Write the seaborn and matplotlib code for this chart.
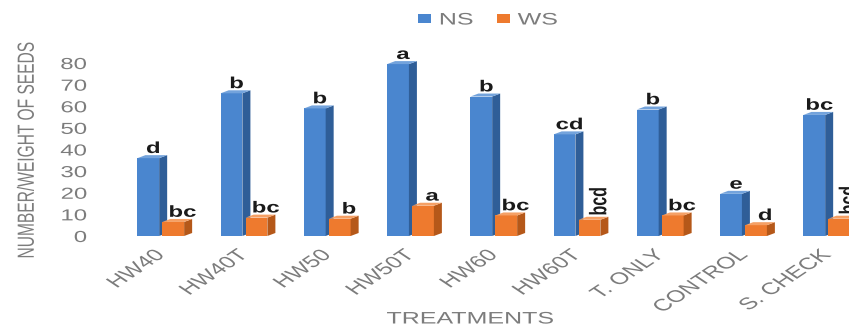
import matplotlib
matplotlib.use("Agg")
import matplotlib.pyplot as plt
import numpy as np
import pandas as pd
import seaborn as sns
from matplotlib.patheffects import AbstractPathEffect
from matplotlib.transforms import Affine2D

# ---- data -------------------------------------------------------------
treatments = ["HW40", "HW40T", "HW50", "HW50T", "HW60", "HW60T",
              "T. ONLY", "CONTROL", "S. CHECK"]
series = ["NS", "WS"]
ns_values = [36, 66, 59, 79.5, 64.5, 47, 58.5, 19.5, 56]
ws_values = [6.5, 8.5, 8, 14, 9.5, 7.5, 9.5, 5, 8]
ns_letters = ["d", "b", "b", "a", "b", "cd", "b", "e", "bc"]
ws_letters = ["bc", "bc", "b", "a", "bc", "bcd", "bc", "d", "bcd"]
y_ticks = [0, 10, 20, 30, 40, 50, 60, 70, 80]

# ---- style ------------------------------------------------------------
W, H = 849, 334
GRAY = "#7c7c7c"
FRONT = {"NS": "#4a86cf", "WS": "#ee7a2e"}
SIDE = {"NS": "#2f5e98", "WS": "#b55819"}
TOP = {"NS": "#73a3dc", "WS": "#f5a065"}
WIDEN = 1.5          # horizontal glyph widening used for all labels

sns.set_theme(style="white")
plt.rcParams["font.family"] = ["Liberation Sans", "DejaVu Sans"]


class WideGlyphs(AbstractPathEffect):
    """Widen the glyphs of a text horizontally, keeping its anchor fixed."""

    def __init__(self, text, sx):
        super().__init__()
        self._text = text
        self._sx = sx

    def draw_path(self, renderer, gc, tpath, affine, rgbFace=None):
        x0, y0 = self._text.get_transform().transform(
            self._text.get_unitless_position())
        widen = (Affine2D().translate(-x0, -y0)
                 .scale(self._sx, 1.0).translate(x0, y0))
        renderer.draw_path(gc, tpath, affine + widen, rgbFace)


def widen(texts):
    for t in texts:
        t.set_path_effects([WideGlyphs(t, WIDEN)])


df = pd.DataFrame({
    "treatment": treatments * 2,
    "series": ["NS"] * len(treatments) + ["WS"] * len(treatments),
    "value": ns_values + ws_values,
})

fig = plt.figure(figsize=(W / 100, H / 100), dpi=100)
ax = fig.add_axes([110 / W, 98 / H, 739 / W, 194.6 / H])

sns.barplot(data=df, x="treatment", y="value", hue="series",
            order=treatments, hue_order=series,
            palette=[FRONT[s] for s in series], saturation=1,
            width=0.6, gap=0.13, errorbar=None, linewidth=0, ax=ax)

x_min = -0.61
px_per_unit_x = 83.25
ax.set_xlim(x_min, x_min + 739 / px_per_unit_x)
ax.set_ylim(0, 90)
sns.despine(ax=ax, left=True, bottom=True)
ax.grid(False)

# depth of the extruded bar faces, in data units
dx = 8 / px_per_unit_x
dy = 3 / (194.6 / 90)

label_sets = {"NS": ns_letters, "WS": ws_letters}
annotations = []
for k, (name, container) in enumerate(zip(series, ax.containers)):
    base_z = 2 + 2 * k
    for bar, letter in zip(container, label_sets[name]):
        bar.set_zorder(base_z)
        x, w, h = bar.get_x(), bar.get_width(), bar.get_height()
        ax.fill([x + w, x + w + dx, x + w + dx, x + w],
                [0, dy, h + dy, h], color=SIDE[name], lw=0,
                zorder=base_z + 0.5)
        ax.fill([x, x + dx, x + w + dx, x + w],
                [h, h + dy, h + dy, h], color=TOP[name], lw=0,
                zorder=base_z + 0.5)
        cx = x + w / 2
        if len(letter) >= 3:
            t = ax.text(cx + 0.12, h + dy + 0.6, letter, rotation=90,
                        ha="center", va="bottom", fontsize=11.5,
                        fontweight="bold", color="#1a1a1a", zorder=8)
        else:
            shift = 0.06 if name == "NS" else 0.11
            t = ax.text(cx + shift, h + dy + 1.0, letter, ha="center",
                        va="baseline", fontsize=11.5, fontweight="bold",
                        color="#1a1a1a", zorder=8)
        annotations.append(t)

# axes text
ax.set_yticks(y_ticks)
ax.set_xticks(range(len(treatments)), labels=treatments)
ax.tick_params(axis="both", length=0)
ax.tick_params(axis="y", labelsize=11.5, labelcolor=GRAY, pad=16.5)
ax.tick_params(axis="x", labelsize=12, labelcolor=GRAY, pad=12)
for lab in ax.get_xticklabels():
    lab.set_rotation(45)
    lab.set_rotation_mode("anchor")
    lab.set_ha("right")
    lab.set_va("center")

ax.set_ylabel("NUMBER/WEIGHT OF SEEDS", fontsize=11.2, color=GRAY,
              ha="center", va="center")
ax.yaxis.set_label_coords((27 - 110) / 739, (236 - 151) / 194.6)
ax.set_xlabel("TREATMENTS", fontsize=12, color=GRAY, va="center")
ax.xaxis.set_label_coords((470 - 110) / 739, -(319 - 236) / 194.6)

sns.move_legend(ax, loc="center left",
                bbox_to_anchor=((418 - 110) / 739, (236 - 20) / 194.6),
                ncol=2, frameon=False, title=None, fontsize=12,
                handlelength=0.8, handleheight=0.4, handletextpad=0.45,
                columnspacing=2.1, borderpad=0, borderaxespad=0)
leg = ax.get_legend()
for t in leg.get_texts():
    t.set_color(GRAY)

fig.canvas.draw()
widen(ax.get_xticklabels())
widen(ax.get_yticklabels())
widen([ax.xaxis.label, ax.yaxis.label])
widen(leg.get_texts())
widen(annotations)

fig.savefig("out.png", dpi=100)
